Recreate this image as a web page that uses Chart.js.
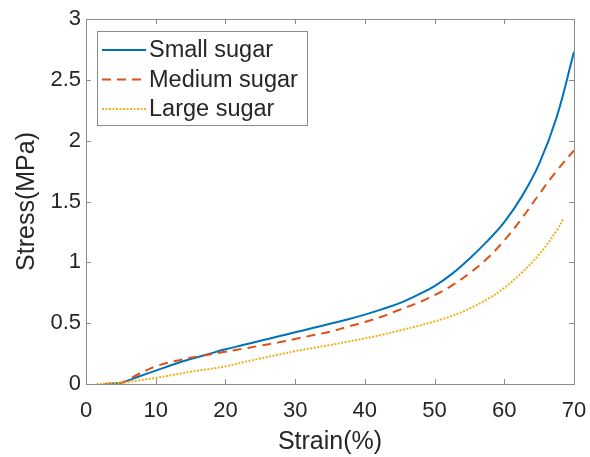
<!DOCTYPE html>
<html>
<head>
<meta charset="utf-8">
<script src="https://cdn.jsdelivr.net/npm/chart.js@4.4.1/dist/chart.umd.min.js"></script>
<style>
  html, body { margin: 0; padding: 0; background: #fff; }
  #wrap { width: 590px; height: 457px; }
</style>
</head>
<body>
<div id="wrap"><canvas id="chart" width="590" height="457"></canvas></div>
<script>
// values
const seriesNames = ['Small sugar', 'Medium sugar', 'Large sugar'];

const smallStrain = [2.5, 5, 7.5, 10, 12.5, 15, 17.5, 20, 22.5, 25, 27.5, 30, 32.5, 35, 37.5, 40, 42.5, 45, 47.5, 50, 52.5, 55, 57.5, 60, 62.5, 65, 67.5, 70];
const smallStress = [0, 0.01, 0.06, 0.11, 0.16, 0.205, 0.245, 0.285, 0.32, 0.355, 0.39, 0.425, 0.46, 0.495, 0.53, 0.57, 0.615, 0.665, 0.73, 0.805, 0.905, 1.03, 1.17, 1.33, 1.54, 1.81, 2.19, 2.73];

const mediumStrain = [2.5, 5, 7.5, 10, 12.5, 15, 17.5, 20, 22.5, 25, 27.5, 30, 32.5, 35, 37.5, 40, 42.5, 45, 47.5, 50, 52.5, 55, 57.5, 60, 62.5, 65, 67.5, 70];
const mediumStress = [0, 0.005, 0.08, 0.145, 0.185, 0.215, 0.24, 0.265, 0.29, 0.315, 0.34, 0.37, 0.4, 0.43, 0.47, 0.51, 0.555, 0.61, 0.665, 0.73, 0.81, 0.91, 1.03, 1.18, 1.36, 1.56, 1.75, 1.92];

const largeStrain = [1.5, 2.5, 5, 7.5, 10, 12.5, 15, 17.5, 20, 22.5, 25, 27.5, 30, 32.5, 35, 37.5, 40, 42.5, 45, 47.5, 50, 52.5, 55, 57.5, 60, 62.5, 65, 67.5, 68.5];
const largeStress = [0, 0, 0.01, 0.028, 0.05, 0.075, 0.1, 0.122, 0.145, 0.178, 0.21, 0.24, 0.27, 0.295, 0.32, 0.347, 0.375, 0.405, 0.44, 0.475, 0.515, 0.56, 0.62, 0.695, 0.79, 0.915, 1.065, 1.26, 1.36];

const xTicks = [0, 10, 20, 30, 40, 50, 60, 70];
const yTicks = [0, 0.5, 1, 1.5, 2, 2.5, 3];

const colors = ['#0072BD', '#D95319', '#EDB120'];
const frameColor = '#8c8c8c';
const textColor = '#262626';
const fontFamily = '"Liberation Sans", Arial, Helvetica, sans-serif';

const toPoints = (xs, ys) => xs.map((x, i) => ({ x: x, y: ys[i] }));

// inner ticks on all four sides plus the top/right frame, MATLAB style
const boxTicks = {
  id: 'boxTicks',
  afterDatasetsDraw(chart) {
    const { ctx, chartArea: a, scales } = chart;
    const len = 5;
    ctx.save();
    ctx.strokeStyle = frameColor;
    ctx.lineWidth = 1;
    ctx.beginPath();
    ctx.moveTo(a.left, a.top + 0.5);
    ctx.lineTo(a.right + 0.5, a.top + 0.5);
    ctx.lineTo(a.right + 0.5, a.bottom);
    xTicks.forEach((v) => {
      const px = Math.round(scales.x.getPixelForValue(v)) + 0.5;
      ctx.moveTo(px, a.bottom);
      ctx.lineTo(px, a.bottom - len);
      ctx.moveTo(px, a.top);
      ctx.lineTo(px, a.top + len);
    });
    yTicks.forEach((v) => {
      const py = Math.round(scales.y.getPixelForValue(v)) + 0.5;
      ctx.moveTo(a.left, py);
      ctx.lineTo(a.left + len, py);
      ctx.moveTo(a.right, py);
      ctx.lineTo(a.right - len, py);
    });
    ctx.stroke();
    ctx.restore();
  }
};

// legend box in the upper left corner of the axes
const boxLegend = {
  id: 'boxLegend',
  afterDraw(chart) {
    const { ctx } = chart;
    const left = 97, top = 31, width = 210, height = 94;
    ctx.save();
    ctx.fillStyle = '#fff';
    ctx.fillRect(left, top, width, height);
    ctx.strokeStyle = frameColor;
    ctx.lineWidth = 1;
    ctx.strokeRect(left + 0.5, top + 0.5, width, height);
    ctx.font = '23.5px ' + fontFamily;
    ctx.textBaseline = 'middle';
    chart.data.datasets.forEach((ds, i) => {
      const y = 50 + i * 29.5;
      ctx.strokeStyle = ds.borderColor;
      ctx.lineWidth = ds.borderWidth;
      ctx.setLineDash(ds.borderDash || []);
      ctx.beginPath();
      ctx.moveTo(102, y);
      ctx.lineTo(146, y);
      ctx.stroke();
      ctx.setLineDash([]);
      ctx.fillStyle = textColor;
      ctx.fillText(ds.label, 149, y + 1);
    });
    ctx.restore();
  }
};

const ctx = document.getElementById('chart').getContext('2d');
new Chart(ctx, {
  type: 'line',
  data: {
    datasets: [
      {
        label: seriesNames[0],
        data: toPoints(smallStrain, smallStress),
        borderColor: colors[0],
        borderWidth: 2,
        order: 2,
      },
      {
        label: seriesNames[1],
        data: toPoints(mediumStrain, mediumStress),
        borderColor: colors[1],
        borderWidth: 2,
        borderDash: [9, 6],
        order: 1,
      },
      {
        label: seriesNames[2],
        data: toPoints(largeStrain, largeStress),
        borderColor: colors[2],
        borderWidth: 2,
        borderDash: [2, 1.5],
        order: 0,
      },
    ],
  },
  options: {
    responsive: false,
    animation: false,
    layout: { padding: { top: 19, right: 16, left: 0, bottom: 0 } },
    elements: {
      point: { radius: 0 },
      line: { tension: 0.4, fill: false },
    },
    plugins: {
      legend: { display: false },
      tooltip: { enabled: false },
    },
    scales: {
      x: {
        type: 'linear',
        min: 0,
        max: 70,
        afterBuildTicks: (scale) => { scale.ticks = xTicks.map((v) => ({ value: v })); },
        afterFit: (scale) => {
          scale.height = 73;
          scale.paddingLeft = 0;
          scale.paddingRight = 0;
        },
        grid: { display: false, drawTicks: false },
        border: { display: true, color: frameColor },
        ticks: { color: textColor, padding: 14, maxRotation: 0, font: { family: fontFamily, size: 22 } },
        title: { display: true, text: 'Strain(%)', color: textColor, padding: { top: 1, bottom: 0 }, font: { family: fontFamily, size: 25 } },
      },
      y: {
        min: 0,
        max: 3,
        afterBuildTicks: (scale) => { scale.ticks = yTicks.map((v) => ({ value: v })); },
        afterFit: (scale) => { scale.width = 86; },
        grid: { display: false, drawTicks: false },
        border: { display: true, color: frameColor },
        ticks: { color: textColor, padding: 5, callback: (v) => String(v), font: { family: fontFamily, size: 22 } },
        title: { display: true, text: 'Stress(MPa)', color: textColor, padding: { top: 12, bottom: 0 }, font: { family: fontFamily, size: 25 } },
      },
    },
  },
  plugins: [boxTicks, boxLegend],
});
</script>
</body>
</html>
